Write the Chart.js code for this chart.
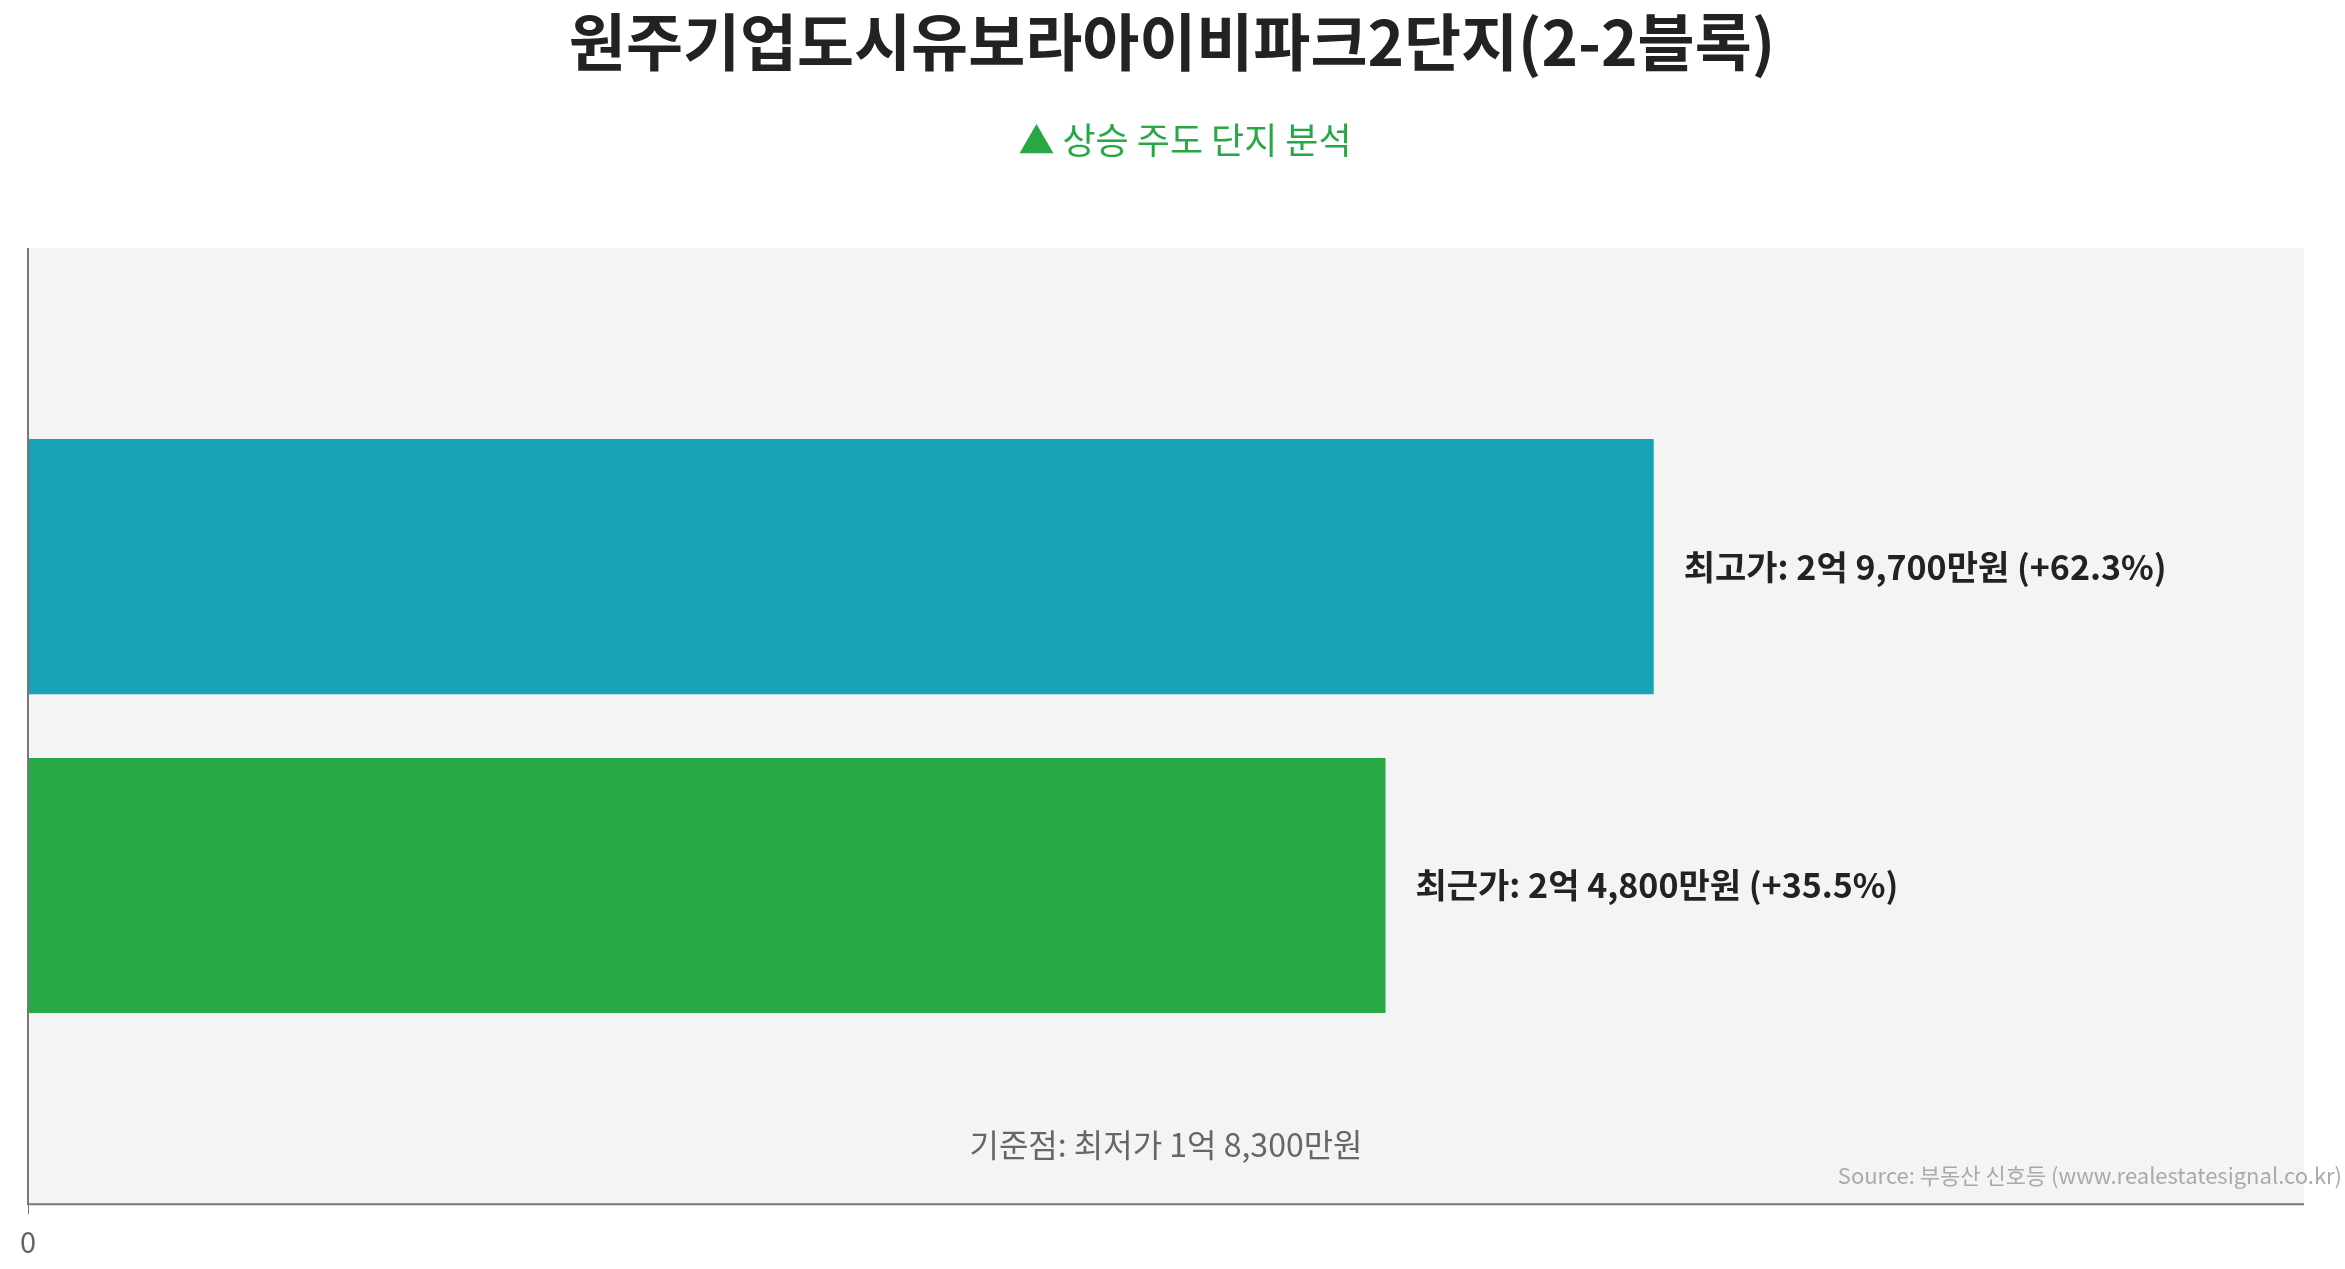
<!DOCTYPE html>
<html><head><meta charset="utf-8">
<script src="https://cdn.jsdelivr.net/npm/chart.js@4"></script>
<style>html,body{margin:0;padding:0;background:#fff}</style>
</head><body>
<canvas id="c" width="2345" height="1269" style="width:2345px;height:1269px"></canvas>
<script>
const categories = [''];
const seriesNames = ['최고가', '최근가'];
const seriesValues = [29700, 24800];
const seriesPct = ['+62.3%', '+35.5%'];
const baseValue = 18300;
const tickStep = 6000;
const colors = ['#17a2b8', '#28a745'];
const FONT = "'Noto Sans CJK KR','Noto Sans',sans-serif";

function fmt(v){
  if(v===0) return '0';
  const eok = Math.floor(v/10000), man = v%10000;
  let s = '';
  if(eok>0) s += eok+'억' + (man? ' ' : '원');
  if(man) s += man.toLocaleString('en-US')+'만원';
  return s;
}

const deco = {
  id:'deco',
  beforeDraw(ch){
    const {ctx, chartArea:a} = ch;
    ctx.save();
    ctx.fillStyle='#f4f4f4';
    ctx.fillRect(a.left,a.top,a.right-a.left,a.bottom-a.top);
    ctx.restore();
  },
  afterDraw(ch){
    const {ctx, chartArea:a} = ch;
    ctx.save();
    ctx.textAlign='center'; ctx.textBaseline='middle';
    ctx.fillStyle='#222'; ctx.font="bold 62px "+FONT;
    ctx.fillText('원주기업도시유보라아이비파크2단지(2-2블록)', 1172, 42);
    ctx.fillStyle='#28a745'; ctx.font="36px "+FONT;
    ctx.fillText('▲ 상승 주도 단지 분석', 1185, 140);
    ctx.fillStyle='#666'; ctx.font="32px "+FONT;
    ctx.fillText('기준점: 최저가 '+fmt(baseValue), (a.left+a.right)/2, 1145);
    ctx.fillStyle='#aaa'; ctx.font="22px "+FONT; ctx.textAlign='right';
    ctx.fillText('Source: 부동산 신호등 (www.realestatesignal.co.kr)', 2342, 1176);
    ctx.textAlign='left'; ctx.fillStyle='#222'; ctx.font="bold 34px "+FONT;
    ch.data.datasets.forEach((ds,i)=>{
      const bar = ch.getDatasetMeta(i).data[0];
      ctx.fillText(seriesNames[i]+': '+fmt(seriesValues[i])+' ('+seriesPct[i]+')', bar.x+30, bar.y);
    });
    ctx.strokeStyle='#777'; ctx.lineWidth=2;
    ctx.beginPath(); ctx.moveTo(a.left,a.top); ctx.lineTo(a.left,a.bottom); ctx.lineTo(a.right,a.bottom); ctx.stroke();
    ctx.restore();
  }
};

new Chart(document.getElementById('c'), {
  type:'bar',
  data:{labels:categories, datasets: seriesNames.map((n,i)=>({label:n, data:[seriesValues[i]], backgroundColor:colors[i], categoryPercentage:0.667, barPercentage:0.8}))},
  options:{
    indexAxis:'y', responsive:false, animation:false, devicePixelRatio:1,
    layout:{padding:{top:248,left:20,right:41,bottom:0}},
    plugins:{legend:{display:false},tooltip:{enabled:false}},
    scales:{
      x:{min:0,max:Math.max(...seriesValues)*1.4,
        afterBuildTicks(s){ s.ticks = s.ticks.filter(t=>t.value%tickStep===0); },
        ticks:{stepSize:tickStep, color:'#666', font:{size:29,family:FONT}, padding:10, callback:v=>fmt(v), maxRotation:0},
        grid:{color:'#e3e3e3', drawTicks:true, tickLength:10, tickColor:'#777'},
        border:{display:false}},
      y:{ticks:{display:false}, grid:{display:false}, border:{display:false}}
    }
  },
  plugins:[deco]
});
</script>
</body></html>
